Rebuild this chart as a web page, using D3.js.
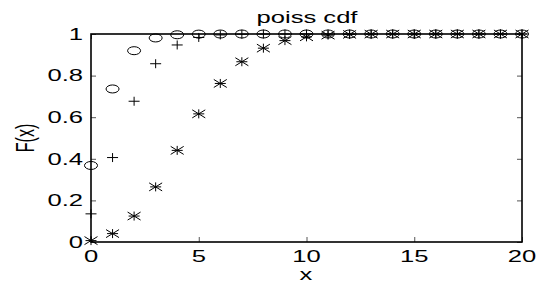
<!DOCTYPE html>
<html>
<head>
<meta charset="utf-8">
<script src="https://cdn.jsdelivr.net/npm/d3@7"></script>
<style>
  body { margin: 0; background: #fff; }
  svg { display: block; }
  text { font-family: "Liberation Sans", Arial, sans-serif; fill: #000; }
</style>
</head>
<body>
<svg id="svg" width="544" height="283"></svg>
<script>
// x = 0..20, poisson cdf for lambda 1, 2, 5
var xs = [0,1,2,3,4,5,6,7,8,9,10,11,12,13,14,15,16,17,18,19,20];
var cdf1 = [0.3679,0.7358,0.9197,0.9810,0.9963,0.9994,0.9999,1,1,1,1,1,1,1,1,1,1,1,1,1,1];
var cdf2 = [0.1353,0.4060,0.6767,0.8571,0.9473,0.9834,0.9955,0.9989,0.9998,1,1,1,1,1,1,1,1,1,1,1,1];
var cdf5 = [0.0067,0.0404,0.1247,0.2650,0.4405,0.6160,0.7622,0.8666,0.9319,0.9682,0.9863,0.9945,0.9980,0.9993,0.9998,0.9999,1,1,1,1,1];
var xTicks = [0,5,10,15,20];
var yTicks = [0,0.2,0.4,0.6,0.8,1];

var sx = 1.6; // text looks horizontally stretched in the original
var pLeft = 91, pRight = 522, pTop = 34, pBottom = 242;

var svg = d3.select('#svg');
var x = d3.scaleLinear().domain([0, 20]).range([pLeft, pRight]);
var y = d3.scaleLinear().domain([0, 1]).range([pBottom, pTop]);

// inner ticks
function ticks(axis, transform) {
  var g = svg.append('g').attr('transform', transform).call(axis);
  g.select('.domain').remove();
  g.selectAll('.tick line').attr('stroke', '#555').attr('stroke-width', 1);
  return g;
}
ticks(d3.axisBottom(x).tickValues(xTicks).tickSize(-5).tickFormat(''), 'translate(0,' + pBottom + ')');
ticks(d3.axisTop(x).tickValues(xTicks).tickSize(-5).tickFormat(''), 'translate(0,' + pTop + ')');
ticks(d3.axisLeft(y).tickValues(yTicks).tickSize(-5).tickFormat(''), 'translate(' + pLeft + ',0)');
ticks(d3.axisRight(y).tickValues(yTicks).tickSize(-5).tickFormat(''), 'translate(' + pRight + ',0)');

// box
svg.append('rect')
  .attr('x', pLeft).attr('y', pTop)
  .attr('width', pRight - pLeft).attr('height', pBottom - pTop)
  .attr('fill', 'none').attr('stroke', '#000').attr('stroke-width', 1.6);

// tick labels
yTicks.forEach(function(v) {
  svg.append('text')
    .attr('transform', 'translate(' + (pLeft - 8) + ',' + y(v) + ') scale(' + sx + ',1)')
    .attr('text-anchor', 'end').attr('dy', '0.36em')
    .style('font-size', '16px')
    .text(d3.format('')(v));
});
xTicks.forEach(function(v) {
  svg.append('text')
    .attr('transform', 'translate(' + x(v) + ',262) scale(' + sx + ',1)')
    .attr('text-anchor', 'middle')
    .style('font-size', '16px')
    .text(v);
});

svg.append('text')
  .attr('transform', 'translate(307,23) scale(' + sx + ',1)')
  .attr('text-anchor', 'middle').style('font-size', '16px')
  .text('poiss cdf');
svg.append('text')
  .attr('transform', 'translate(306,280) scale(' + sx + ',1)')
  .attr('text-anchor', 'middle').style('font-size', '16px')
  .text('x');
svg.append('text')
  .attr('transform', 'translate(34,138) scale(' + sx + ',1) rotate(-90)')
  .attr('text-anchor', 'middle').style('font-size', '16px')
  .text('F(x)');

// markers
var pts = svg.append('g').attr('fill', 'none').attr('stroke', '#000').attr('stroke-width', 1);

pts.selectAll('ellipse').data(cdf1).enter().append('ellipse')
  .attr('cx', function(d, i) { return x(xs[i]); })
  .attr('cy', function(d) { return y(d); })
  .attr('rx', 6.5).attr('ry', 4);

function plusPath(cx, cy) {
  return 'M' + (cx - 5.5) + ',' + cy + 'H' + (cx + 5.5) +
         'M' + cx + ',' + (cy - 4.5) + 'V' + (cy + 4.5);
}
function starPath(cx, cy) {
  var w = 6.5, h = 4;
  return plusPath(cx, cy) +
    'M' + (cx - w) + ',' + (cy - h) + 'L' + (cx + w) + ',' + (cy + h) +
    'M' + (cx - w) + ',' + (cy + h) + 'L' + (cx + w) + ',' + (cy - h);
}

pts.selectAll('path.p2').data(cdf2).enter().append('path').attr('class', 'p2')
  .attr('d', function(d, i) { return plusPath(x(xs[i]), y(d)); });
pts.selectAll('path.p5').data(cdf5).enter().append('path').attr('class', 'p5')
  .attr('d', function(d, i) { return starPath(x(xs[i]), y(d)); });
</script>
</body>
</html>
